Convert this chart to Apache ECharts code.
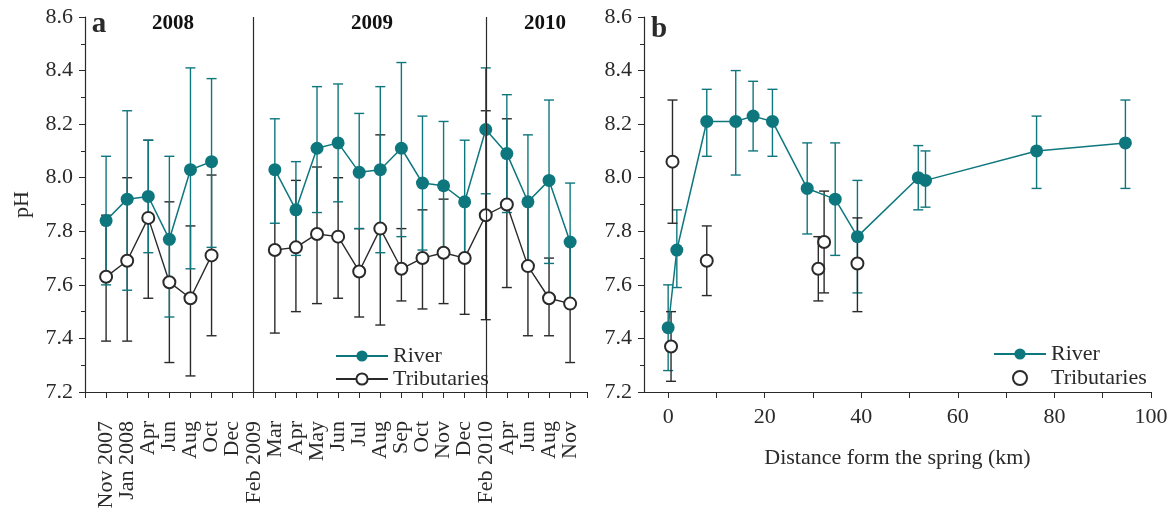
<!DOCTYPE html>
<html>
<head>
<meta charset="utf-8">
<script src="https://cdn.jsdelivr.net/npm/echarts@6/dist/echarts.min.js"></script>
<style>
  html, body { margin: 0; padding: 0; background: #fff; }
  #chart { width: 1174px; height: 515px; }
</style>
</head>
<body>
<div id="chart"></div>
<script>
// Panel a: sampling months (index = x position), null = not sampled
const months = ['Nov 2007', 'Jan 2008', 'Apr', 'Jun', 'Aug', 'Oct', 'Dec', 'Feb 2009', 'Mar', 'Apr', 'May', 'Jun',
    'Jul', 'Aug', 'Sep', 'Oct', 'Nov', 'Dec', 'Feb 2010', 'Apr', 'Jun', 'Aug', 'Nov'];
const riverMean = [7.84, 7.92, 7.93, 7.77, 8.03, 8.06, null, null, 8.03, 7.88, 8.11, 8.13, 8.02, 8.03, 8.11, 7.98, 7.97, 7.91, 8.18, 8.09, 7.91, 7.99, 7.76];
const riverLow = [7.60, 7.58, 7.72, 7.48, 7.66, 7.74, null, null, 7.83, 7.71, 7.87, 7.91, 7.81, 7.72, 7.78, 7.73, 7.73, 7.69, 7.94, 7.87, 7.66, 7.68, 7.53];
const riverHigh = [8.08, 8.25, 8.14, 8.08, 8.41, 8.37, null, null, 8.22, 8.06, 8.34, 8.35, 8.24, 8.34, 8.43, 8.23, 8.21, 8.14, 8.41, 8.31, 8.16, 8.29, 7.98];
const tribMean = [7.63, 7.69, 7.85, 7.61, 7.55, 7.71, null, null, 7.73, 7.74, 7.79, 7.78, 7.65, 7.81, 7.66, 7.70, 7.72, 7.70, 7.86, 7.90, 7.67, 7.55, 7.53];
const tribLow = [7.39, 7.39, 7.55, 7.31, 7.26, 7.41, null, null, 7.42, 7.50, 7.53, 7.55, 7.48, 7.45, 7.54, 7.51, 7.53, 7.49, 7.47, 7.59, 7.41, 7.41, 7.31];
const tribHigh = [7.86, 8.00, 8.14, 7.91, 7.82, 8.01, null, null, 8.03, 7.99, 8.04, 8.00, 7.81, 8.16, 7.81, 7.88, 7.92, 7.90, 8.25, 8.22, 7.92, 7.70, 7.76];
const yearLabels = ['2008', '2009', '2010'];
const yearBreaks = [7, 18];

// Panel b: distance from the spring (km)
const distRiver = [0, 1.8, 8.0, 14.0, 17.6, 21.6, 28.8, 34.6, 39.2, 51.8, 53.3, 76.3, 94.7];
const riverB = [7.44, 7.73, 8.21, 8.21, 8.23, 8.21, 7.96, 7.92, 7.78, 8.00, 7.99, 8.10, 8.13];
const riverBLow = [7.28, 7.59, 8.08, 8.01, 8.10, 8.08, 7.79, 7.71, 7.57, 7.88, 7.89, 7.96, 7.96];
const riverBHigh = [7.60, 7.88, 8.33, 8.40, 8.36, 8.33, 8.13, 8.13, 7.99, 8.12, 8.10, 8.23, 8.29];
const distTrib = [0.6, 0.9, 8.0, 31.1, 32.3, 39.2];
const tribB = [7.37, 8.06, 7.69, 7.66, 7.76, 7.68];
const tribBLow = [7.24, 7.83, 7.56, 7.54, 7.57, 7.50];
const tribBHigh = [7.50, 8.29, 7.82, 7.78, 7.95, 7.85];
const distLabels = [0, 20, 40, 60, 80, 100];
const distTicks = [0, 10, 20, 30, 40, 50, 60, 70, 80, 90, 100];

const TEAL = '#0e777e';
const DARK = '#2a2a2a';
const FONT = '"Liberation Serif", "Times New Roman", serif';

function errorBars(color) {
    return function (params, api) {
        const x = api.value(0);
        const lo = api.coord([x, api.value(1)]);
        const hi = api.coord([x, api.value(2)]);
        const w = 5;
        const style = { stroke: color, lineWidth: 1.4 };
        return {
            type: 'group',
            children: [
                { type: 'line', shape: { x1: lo[0], y1: lo[1], x2: hi[0], y2: hi[1] }, style },
                { type: 'line', shape: { x1: lo[0] - w, y1: lo[1], x2: lo[0] + w, y2: lo[1] }, style },
                { type: 'line', shape: { x1: hi[0] - w, y1: hi[1], x2: hi[0] + w, y2: hi[1] }, style },
            ],
        };
    };
}

const monthBars = (low, high) => months.map((m, i) => [i, low[i], high[i]]).filter((d) => d[1] !== null);
const monthPoints = (vals) => months.map((m, i) => [i, vals[i] === null ? '-' : vals[i]]);
const distBars = (xs, low, high) => xs.map((x, i) => [x, low[i], high[i]]);
const distPoints = (xs, vals) => xs.map((x, i) => [x, vals[i]]);

const axisText = { color: DARK, fontFamily: FONT, fontSize: 22 };
const axisLine = { show: true, onZero: false, lineStyle: { color: DARK, width: 1.2 } };

function phAxis(gridIndex, withName) {
    return {
        type: 'value',
        gridIndex,
        min: 7.2,
        max: 8.6,
        interval: 0.2,
        name: withName ? 'pH' : '',
        nameLocation: 'middle',
        nameGap: 52,
        nameTextStyle: { ...axisText },
        axisLine,
        axisTick: { show: true, length: 6, lineStyle: { color: DARK } },
        minorTick: { show: true, splitNumber: 2, length: 4, lineStyle: { color: DARK } },
        axisLabel: { ...axisText, margin: 12, formatter: (v) => v.toFixed(1) },
        splitLine: { show: false },
    };
}

const option = {
    animation: false,
    backgroundColor: '#fff',
    textStyle: { fontFamily: FONT },
    grid: [
        { left: 85, right: 587, top: 17, bottom: 123 },
        { left: 644, right: 23, top: 17, bottom: 123 },
    ],
    xAxis: [
        {
            type: 'value',
            gridIndex: 0,
            min: -1,
            max: 22.8,
            interval: 1,
            axisLine,
            axisTick: { show: true, length: 6, lineStyle: { color: DARK } },
            axisLabel: {
                ...axisText,
                rotate: 90,
                margin: 29,
                padding: [0, 0, 8, 0],
                formatter: (v) => months[Math.round(v)] || '',
            },
            splitLine: { show: false },
        },
        {
            type: 'value',
            gridIndex: 1,
            min: -5,
            max: 100,
            name: 'Distance form the spring (km)',
            nameLocation: 'middle',
            nameGap: 55,
            nameTextStyle: { ...axisText },
            axisLine,
            axisTick: { show: true, length: 6, customValues: distTicks, lineStyle: { color: DARK } },
            axisLabel: { ...axisText, margin: 14, customValues: distLabels },
            splitLine: { show: false },
        },
    ],
    yAxis: [phAxis(0, true), phAxis(1, false)],
    legend: [
        {
            data: ['River', 'Tributaries'],
            orient: 'vertical',
            left: 330,
            top: 340,
            itemWidth: 52,
            itemHeight: 14,
            itemGap: 1,
            textStyle: { ...axisText, fontSize: 22 },
        },
        {
            data: ['River', { name: 'Tributaries', icon: 'emptyCircle' }],
            orient: 'vertical',
            left: 988,
            top: 338,
            itemWidth: 52,
            itemHeight: 14,
            itemGap: 2,
            textStyle: { ...axisText, fontSize: 22 },
        },
    ],
    graphic: [
        { type: 'text', style: { x: 99, y: 25, text: 'a', font: 'bold 29px ' + FONT, fill: DARK, align: 'center', verticalAlign: 'middle' } },
        { type: 'text', style: { x: 173, y: 24, text: yearLabels[0], font: 'bold 21px ' + FONT, fill: '#111', align: 'center', verticalAlign: 'middle' } },
        { type: 'text', style: { x: 372, y: 24, text: yearLabels[1], font: 'bold 21px ' + FONT, fill: '#111', align: 'center', verticalAlign: 'middle' } },
        { type: 'text', style: { x: 545, y: 24, text: yearLabels[2], font: 'bold 21px ' + FONT, fill: '#111', align: 'center', verticalAlign: 'middle' } },
        { type: 'text', style: { x: 659, y: 30, text: 'b', font: 'bold 29px ' + FONT, fill: DARK, align: 'center', verticalAlign: 'middle' } },
    ],
    series: [
        {
            name: 'trib-err-a',
            type: 'custom',
            xAxisIndex: 0,
            yAxisIndex: 0,
            renderItem: errorBars(DARK),
            encode: { x: 0, y: [1, 2] },
            data: monthBars(tribLow, tribHigh),
            z: 1,
        },
        {
            name: 'river-err-a',
            type: 'custom',
            xAxisIndex: 0,
            yAxisIndex: 0,
            renderItem: errorBars(TEAL),
            encode: { x: 0, y: [1, 2] },
            data: monthBars(riverLow, riverHigh),
            z: 1,
        },
        {
            name: 'Tributaries',
            type: 'line',
            xAxisIndex: 0,
            yAxisIndex: 0,
            symbol: 'emptyCircle',
            symbolSize: 12,
            connectNulls: false,
            lineStyle: { color: DARK, width: 1.4 },
            itemStyle: { color: DARK, borderWidth: 1.5 },
            data: monthPoints(tribMean),
            z: 3,
        },
        {
            name: 'River',
            type: 'line',
            xAxisIndex: 0,
            yAxisIndex: 0,
            symbol: 'circle',
            symbolSize: 13,
            connectNulls: false,
            lineStyle: { color: TEAL, width: 1.5 },
            itemStyle: { color: TEAL },
            data: monthPoints(riverMean),
            markLine: {
                silent: true,
                symbol: 'none',
                label: { show: false },
                lineStyle: { color: DARK, type: 'solid', width: 1.2 },
                data: yearBreaks.map((x) => ({ xAxis: x })),
            },
            z: 4,
        },
        {
            name: 'river-err-b',
            type: 'custom',
            xAxisIndex: 1,
            yAxisIndex: 1,
            renderItem: errorBars(TEAL),
            encode: { x: 0, y: [1, 2] },
            data: distBars(distRiver, riverBLow, riverBHigh),
            z: 1,
        },
        {
            name: 'trib-err-b',
            type: 'custom',
            xAxisIndex: 1,
            yAxisIndex: 1,
            renderItem: errorBars(DARK),
            encode: { x: 0, y: [1, 2] },
            data: distBars(distTrib, tribBLow, tribBHigh),
            z: 1,
        },
        {
            name: 'River',
            type: 'line',
            xAxisIndex: 1,
            yAxisIndex: 1,
            symbol: 'circle',
            symbolSize: 13,
            lineStyle: { color: TEAL, width: 1.5 },
            itemStyle: { color: TEAL },
            data: distPoints(distRiver, riverB),
            z: 4,
        },
        {
            name: 'Tributaries',
            type: 'scatter',
            xAxisIndex: 1,
            yAxisIndex: 1,
            symbol: 'emptyCircle',
            symbolSize: 12,
            itemStyle: { color: DARK, borderWidth: 1.5, opacity: 1 },
            data: distPoints(distTrib, tribB),
            z: 3,
        },
    ],
};

const chart = echarts.init(document.getElementById('chart'), null, { renderer: 'canvas' });
chart.setOption(option);
</script>
</body>
</html>
